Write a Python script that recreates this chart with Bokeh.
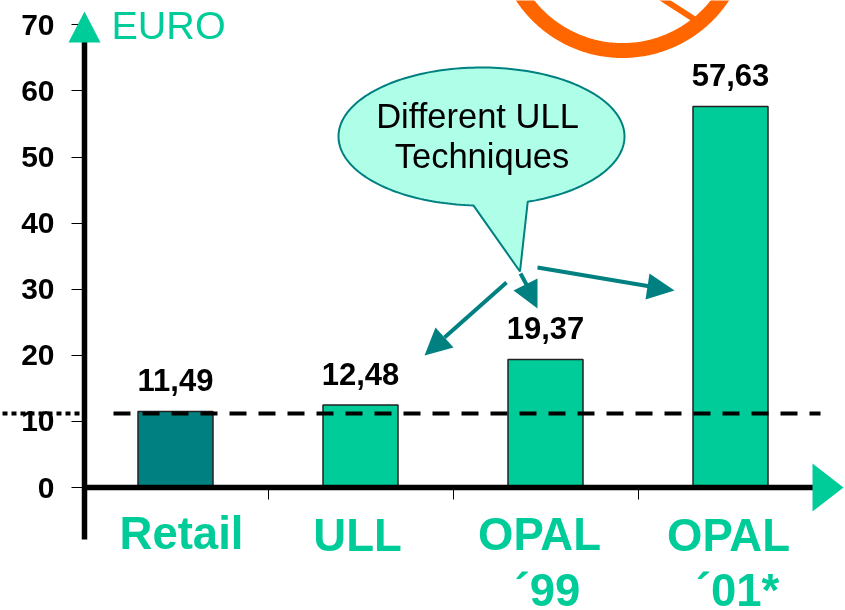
import numpy as np
from bokeh.models import Range1d, LinearAxis, FixedTicker
from bokeh.plotting import figure
from bokeh.embed import file_html
from bokeh.resources import INLINE
from bokeh.core.properties import value as V

categories = ["Retail", "ULL", "OPAL", "OPAL"]
categories_line2 = ["", "", "´99", "´01*"]
values = [11.49, 12.48, 19.37, 57.63]
value_labels = ["11,49", "12,48", "19,37", "57,63"]
y_ticks = [0, 10, 20, 30, 40, 50, 60, 70]
x_ticks = [0.5, 1.5, 2.5]
reference_level = 11.2

GREEN, TEAL, PALE, ORANGE = "#00CC99", "#008080", "#AFFFE8", "#FF6600"
W, H = 845, 610
X0, XS, Y0, YS = 175, 185, 487, 6.61
SHIFT = 0.36  # the page's alphabetic baseline sits this many em low

def dx(px): return (np.asarray(px, float) - X0) / XS
def dy(py): return (Y0 - np.asarray(py, float)) / YS
def by_(py, size): return dy(np.asarray(py, float) - SHIFT * size)

p = figure(width=W, height=H, output_backend="svg", toolbar_location=None,
           x_range=Range1d(float(dx(0)), float(dx(W))), y_range=Range1d(float(dy(H)), float(dy(0))),
           min_border=0, min_border_left=0, min_border_right=0, min_border_top=0, min_border_bottom=0,
           x_axis_type=None, y_axis_type=None, outline_line_color=None)
p.styles = {"position": "fixed", "left": "0px", "top": "0px"}
p.grid.visible = False

# Axes
ya = LinearAxis(ticker=FixedTicker(ticks=y_ticks), fixed_location=float(dx(84)), bounds=(float(dy(539)), 70),
                axis_line_width=5.5, axis_line_color="black", major_tick_line_width=1, major_tick_line_color="black",
                major_tick_in=0, major_tick_out=13, minor_tick_line_color=None, major_label_standoff=17,
                major_label_text_font="Liberation Sans", major_label_text_font_style="bold",
                major_label_text_font_size="30px", major_label_text_color="black")
xa = LinearAxis(ticker=FixedTicker(ticks=x_ticks), fixed_location=0, bounds=(float(dx(84)), float(dx(814))),
                axis_line_width=5.5, axis_line_color="black", major_tick_line_width=1, major_tick_line_color="black",
                major_tick_in=0, major_tick_out=12, minor_tick_line_color=None,
                major_label_text_color=None, major_label_text_font_size="1px")

# Bars
xs = np.arange(len(values))
bar_colors = [TEAL, GREEN, GREEN, GREEN]
p.vbar(x=xs, top=values, bottom=0, width=75 / XS, fill_color=bar_colors, line_color="#222222", line_width=1.5)
p.add_layout(ya, "left")
p.add_layout(xa, "below")

# Reference line
p.line(dx([113, 820]), [reference_level] * 2, line_color="black", line_width=4, line_dash="17 12")
p.line(dx([2, 82]), [reference_level] * 2, line_color="black", line_width=4, line_dash="5 4")

# Axis arrowheads, above the axis lines
p.patch(dx([84, 68, 100]), dy([11, 42, 42]), fill_color=GREEN, line_color=None, level="annotation")
p.patch(dx([843, 812, 812]), dy([487, 463, 511]), fill_color=GREEN, line_color=None, level="annotation")

# Value labels
p.text(x=xs, y=values, text=value_labels, text_align="center", text_baseline="alphabetic",
       y_offset=-20 - SHIFT * 31,
       text_font=V("Liberation Sans"), text_font_style="bold", text_font_size="31px", text_color="black")

# Category labels
p.text(x=dx([181, 357, 539, 728]), y=by_([549, 551, 550, 551], 45.5), text=categories, text_align="center",
       text_baseline="alphabetic", text_font=V("Liberation Sans"), text_font_style="bold",
       text_font_size="45.5px", text_color=GREEN)
p.text(x=dx([547, 737]), y=by_([606, 606], 45.5), text=categories_line2[2:], text_align="center",
       text_baseline="alphabetic", text_font=V("Liberation Sans"), text_font_style="bold",
       text_font_size="45.5px", text_color=GREEN)
p.text(x=dx([111]), y=by_([39], 39.5), text=["EURO"], text_baseline="alphabetic", text_font=V("Liberation Sans"),
       text_font_size="39.5px", text_color=GREEN)

# Orange no-sign fragment
th = np.linspace(0, np.pi, 200)
p.line(dx(622 + 120 * np.cos(th)), dy(-70 + 120 * np.sin(th)), line_color=ORANGE, line_width=15)
p.line(dx([660, 698]), dy([-3, 21.5]), line_color=ORANGE, line_width=6)

# Callout balloon
cx, cy, rx, ry = 481, 136, 143, 69
a1 = np.arctan2(65 / ry, 46 / rx)
a2 = np.arctan2(68 / ry, -8 / rx)
t = np.linspace(a2, a1 + 2 * np.pi, 200)
bx = np.concatenate([cx + rx * np.cos(t), [519.5]])
by = np.concatenate([cy + ry * np.sin(t), [271]])
p.patch(dx(bx), dy(by), fill_color=PALE, line_color=TEAL, line_width=2)
p.text(x=dx([477, 481.5]), y=by_([128, 168], 34.5), text=["Different ULL", "Techniques"], text_align="center",
       text_baseline="alphabetic", text_font=V("Liberation Sans"), text_font_size="34.5px", text_color="black")

# Teal arrows
p.line(dx([506, 444]), dy([282, 337]), line_color=TEAL, line_width=4)
p.patch(dx([424, 435, 453]), dy([355, 327, 347]), fill_color=TEAL, line_color=None)
p.line(dx([520, 527]), dy([273, 286]), line_color=TEAL, line_width=4)
p.patch(dx([537, 513, 537]), dy([308, 290, 278]), fill_color=TEAL, line_color=None)
p.line(dx([537, 650]), dy([267, 286]), line_color=TEAL, line_width=4)
p.patch(dx([674, 649, 645]), dy([290, 273, 299]), fill_color=TEAL, line_color=None)

open("out.html", "w").write(file_html(p, INLINE))
